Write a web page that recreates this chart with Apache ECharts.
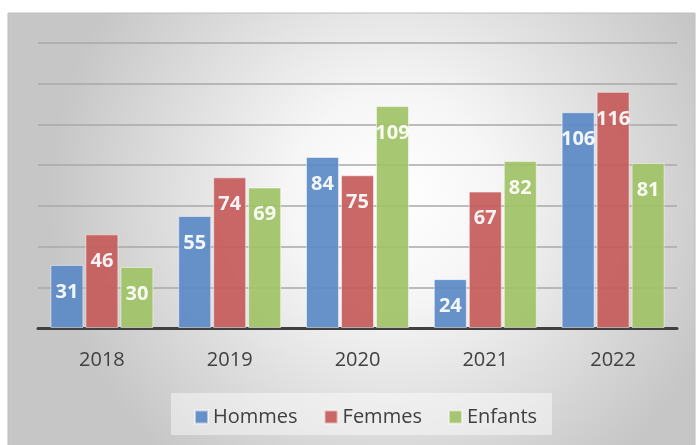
<!DOCTYPE html>
<html>
<head>
<meta charset="utf-8">
<script src="https://cdn.jsdelivr.net/npm/echarts@6/dist/echarts.min.js"></script>
<style>
  html, body { margin: 0; padding: 0; background: #fff; }
  #chart { width: 700px; height: 445px; }
</style>
</head>
<body>
<div id="chart"></div>
<script>
// données
const years = ["2018", "2019", "2020", "2021", "2022"];
const hommes = [31, 55, 84, 24, 106];
const femmes = [46, 74, 75, 67, 116];
const enfants = [30, 69, 109, 82, 81];

const chart = echarts.init(document.getElementById("chart"));

function barSerie(name, data, color) {
  return {
    name: name,
    type: "bar",
    data: data,
    barWidth: 33,
    barGap: "6%",
    itemStyle: {
      color: color,
      opacity: 0.92,
      borderColor: "rgba(255,255,255,0.55)",
      borderWidth: 1,
    },
    label: {
      show: true,
      position: "insideTop",
      distance: 17,
      color: "#fff",
      fontSize: 20,
      fontWeight: "bold",
      fontFamily: "Open Sans",
    },
  };
}

const option = {
  animation: false,
  graphic: [
    {
      type: "rect",
      z: -10,
      shape: { x: 8, y: 13, width: 687, height: 440 },
      style: {
        fill: {
          type: "radial", x: 0.56, y: 0.42, r: 0.78,
          colorStops: [
            { offset: 0, color: "#ffffff" },
            { offset: 0.3, color: "#f6f6f6" },
            { offset: 1, color: "#c6c6c6" },
          ],
        },
        stroke: "#bdbdbd",
        lineWidth: 1,
      },
    },
    {
      type: "rect",
      z: -5,
      shape: { x: 171, y: 393, width: 381, height: 42 },
      style: { fill: "rgba(255,255,255,0.45)" },
    },
  ],
  legend: {
    data: ["Hommes", "Femmes", "Enfants"],
    top: 402,
    left: 189,
    itemWidth: 13,
    itemHeight: 13,
    itemGap: 26,
    icon: "rect",
    textStyle: { fontSize: 20, color: "#404040", fontFamily: "Open Sans" },
  },
  grid: { left: 38, right: 23, top: 43, bottom: 117 },
  xAxis: {
    type: "category",
    data: years,
    axisTick: { show: false },
    axisLine: { lineStyle: { color: "#404040", width: 3 } },
    axisLabel: { fontSize: 20, color: "#404040", margin: 22, fontFamily: "Open Sans" },
  },
  yAxis: {
    type: "value",
    min: 0,
    max: 140,
    interval: 20,
    axisLabel: { show: false },
    axisLine: { show: false },
    axisTick: { show: false },
    splitLine: { lineStyle: { color: "#a9a9a9", width: 1.5 } },
  },
  series: [
    barSerie("Hommes", hommes, "#5a89c5"),
    barSerie("Femmes", femmes, "#c65a5a"),
    barSerie("Enfants", enfants, "#a1c266"),
  ],
};

chart.setOption(option);
</script>
</body>
</html>
